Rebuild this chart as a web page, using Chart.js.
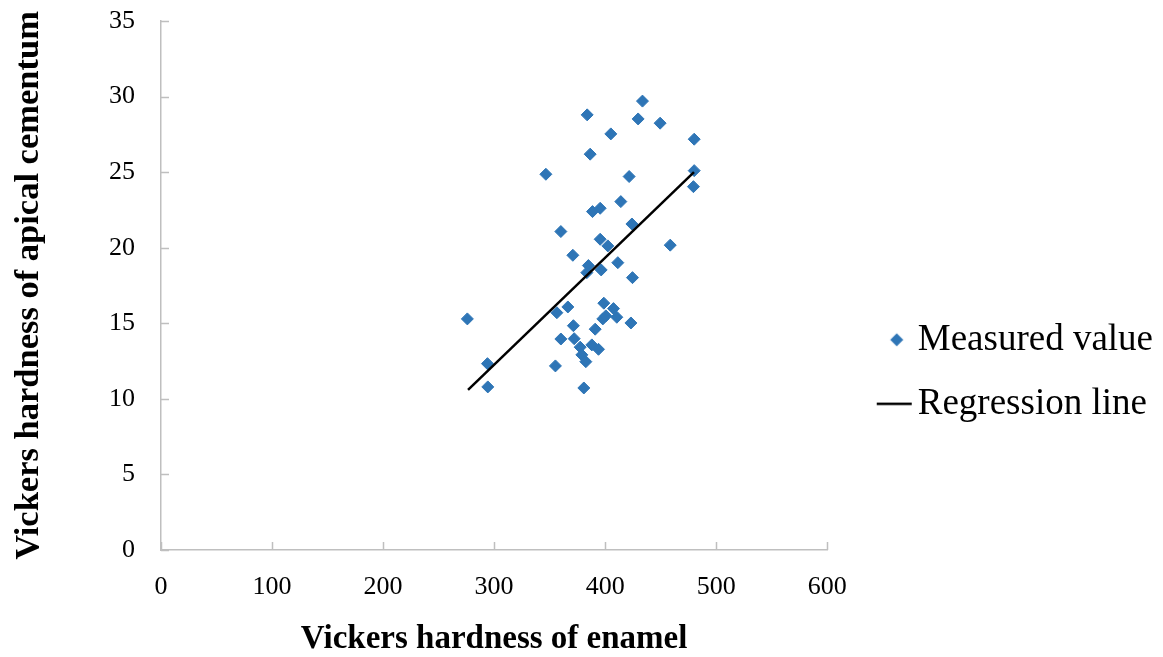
<!DOCTYPE html>
<html>
<head>
<meta charset="utf-8">
<script src="https://cdn.jsdelivr.net/npm/chart.js@4.4.1/dist/chart.umd.min.js"></script>
<style>
  html, body { margin: 0; padding: 0; background: #ffffff; }
  #wrap { width: 1163px; height: 657px; position: relative; }
</style>
</head>
<body>
<div id="wrap"><canvas id="chart" width="1163" height="657"></canvas></div>
<script>
// ---- data ----
const seriesNames = ['Measured value', 'Regression line'];
const xAxisTitle = 'Vickers hardness of enamel';
const yAxisTitle = 'Vickers hardness of apical cementum';
const xTickValues = [0, 100, 200, 300, 400, 500, 600];
const yTickValues = [0, 5, 10, 15, 20, 25, 30, 35];

const enamelHardness = [
  433.6, 383.8, 429.7, 449.5, 405.1, 480.2, 386.5, 346.6, 421.6, 480.2,
  479.5, 414.1, 388.6, 395.5, 360.1, 424.1, 395.5, 402.4, 458.6, 370.9,
  384.9, 383.5, 396.4, 411.4, 424.6, 275.9, 356.5, 366.4, 398.8, 407.5,
  410.5, 397.9, 400.6, 423.2, 371.4, 391.0, 360.1, 372.1, 377.5, 388.0,
  394.0, 379.0, 382.6, 355.2, 294.0, 294.3, 380.8
];
const cementumHardness = [
  29.70, 28.79, 28.52, 28.24, 27.53, 27.18, 26.19, 24.86, 24.71, 25.10,
  24.04, 23.05, 22.39, 22.61, 21.07, 21.57, 20.56, 20.12, 20.17, 19.50,
  18.82, 18.35, 18.53, 19.01, 18.02, 15.29, 15.70, 16.08, 16.33, 15.97,
  15.40, 15.29, 15.49, 15.02, 14.84, 14.61, 13.96, 13.98, 13.42, 13.57,
  13.28, 12.91, 12.46, 12.18, 12.33, 10.79, 10.72
];
const regressionX = [276.5, 480.0];
const regressionY = [10.6, 25.0];

// ---- styles ----
const FONT = "'Liberation Serif', 'Times New Roman', Times, serif";
const POINT_COLOR = '#2E75B6';
const LINE_COLOR = '#000000';
const AXIS_COLOR = '#BFBFBF';

const measured = enamelHardness.map((x, i) => ({ x: x, y: cementumHardness[i] }));
const regression = regressionX.map((x, i) => ({ x: x, y: regressionY[i] }));

// legend icons (small canvases, offset inside so they sit like the reference)
function makeDiamondIcon() {
  const c = document.createElement('canvas');
  c.width = 54; c.height = 16;
  const g = c.getContext('2d');
  g.fillStyle = POINT_COLOR;
  g.beginPath();
  g.moveTo(47 - 6.5, 8); g.lineTo(47, 8 - 6.5); g.lineTo(47 + 6.5, 8); g.lineTo(47, 8 + 6.5);
  g.closePath(); g.fill();
  return c;
}
function makeLineIcon() {
  const c = document.createElement('canvas');
  c.width = 72; c.height = 4;
  const g = c.getContext('2d');
  g.strokeStyle = LINE_COLOR; g.lineWidth = 2.5;
  g.beginPath(); g.moveTo(36, 2); g.lineTo(71, 2); g.stroke();
  return c;
}
const legendIcons = [makeDiamondIcon(), makeLineIcon()];

// inward tick marks, placed with the scales
const inwardTicks = {
  id: 'inwardTicks',
  beforeDatasetsDraw(chart) {
    const { ctx, chartArea, scales } = chart;
    const len = 8;
    ctx.save();
    ctx.strokeStyle = AXIS_COLOR;
    ctx.lineWidth = 1.5;
    ctx.beginPath();
    scales.x.ticks.forEach(t => {
      const px = Math.round(scales.x.getPixelForValue(t.value)) + 0.5;
      ctx.moveTo(px, chartArea.bottom);
      ctx.lineTo(px, chartArea.bottom - len);
    });
    scales.y.ticks.forEach(t => {
      const py = Math.round(scales.y.getPixelForValue(t.value)) + 0.5;
      ctx.moveTo(chartArea.left, py);
      ctx.lineTo(chartArea.left + len, py);
    });
    ctx.stroke();
    ctx.restore();
  }
};

new Chart(document.getElementById('chart'), {
  type: 'scatter',
  data: {
    datasets: [
      {
        label: seriesNames[0],
        data: measured,
        pointStyle: 'rectRot',
        pointRadius: 6,
        pointHoverRadius: 6,
        backgroundColor: POINT_COLOR,
        borderColor: POINT_COLOR,
        borderWidth: 1,
        order: 2
      },
      {
        label: seriesNames[1],
        data: regression,
        showLine: true,
        pointRadius: 0,
        borderColor: LINE_COLOR,
        backgroundColor: LINE_COLOR,
        borderWidth: 2.5,
        fill: false,
        order: 1
      }
    ]
  },
  options: {
    responsive: false,
    animation: false,
    devicePixelRatio: 1,
    layout: { padding: { top: 21, right: 0, bottom: 0, left: 0 } },
    plugins: {
      tooltip: { enabled: false },
      legend: {
        position: 'right',
        maxWidth: 420,
        title: { display: true, text: ' ', font: { size: 10 }, padding: { top: 53.6, bottom: 0 } },
        labels: {
          usePointStyle: true,
          pointStyleWidth: 45,
          padding: 27,
          color: '#000000',
          font: { family: FONT, size: 37 },
          sort: (a, b) => a.datasetIndex - b.datasetIndex,
          generateLabels(chart) {
            const items = Chart.defaults.plugins.legend.labels.generateLabels(chart);
            items.forEach(it => { it.pointStyle = legendIcons[it.datasetIndex]; });
            return items;
          }
        }
      }
    },
    scales: {
      x: {
        type: 'linear',
        min: xTickValues[0],
        max: xTickValues[xTickValues.length - 1],
        afterFit(scale) { scale.height = 107; },
        ticks: {
          stepSize: xTickValues[1] - xTickValues[0],
          color: '#000000',
          padding: 22,
          font: { family: FONT, size: 26 }
        },
        grid: { display: true, drawOnChartArea: false, drawTicks: false },
        border: { display: true, color: AXIS_COLOR, width: 1.5 },
        title: {
          display: true,
          text: xAxisTitle,
          color: '#000000',
          font: { family: FONT, size: 33, weight: 'bold', lineHeight: 1.0 },
          padding: { top: 0, bottom: 1 }
        }
      },
      y: {
        type: 'linear',
        min: yTickValues[0],
        max: yTickValues[yTickValues.length - 1],
        afterFit(scale) { scale.width = 161; scale.paddingTop = 0; scale.paddingBottom = 0; },
        ticks: {
          stepSize: yTickValues[1] - yTickValues[0],
          color: '#000000',
          padding: 26,
          font: { family: FONT, size: 26 }
        },
        grid: { display: true, drawOnChartArea: false, drawTicks: false },
        border: { display: true, color: AXIS_COLOR, width: 1.5 },
        title: {
          display: true,
          text: yAxisTitle,
          color: '#000000',
          font: { family: FONT, size: 34.5, weight: 'bold' },
          padding: { top: 8, bottom: 0 }
        }
      }
    }
  },
  plugins: [inwardTicks]
});
</script>
</body>
</html>
